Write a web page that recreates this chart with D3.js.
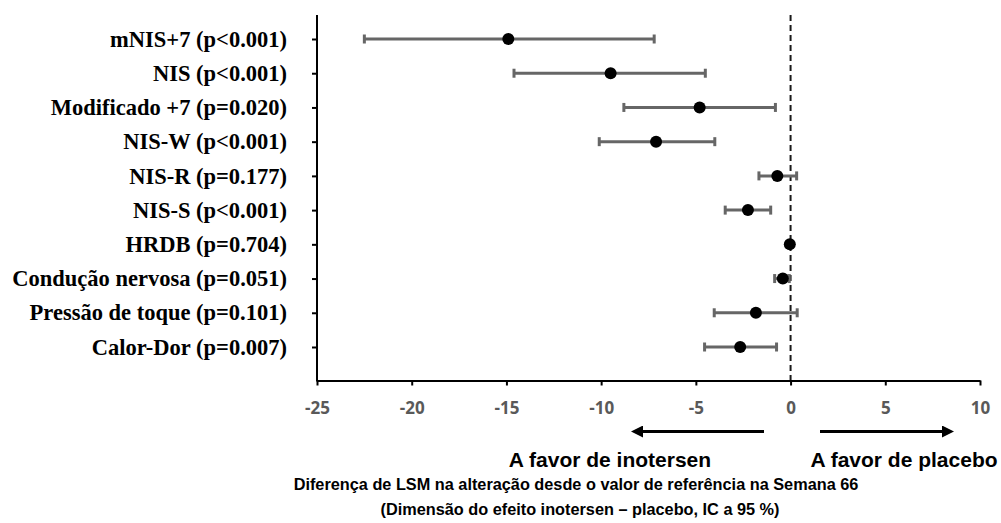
<!DOCTYPE html>
<html>
<head>
<meta charset="utf-8">
<script src="https://cdn.jsdelivr.net/npm/d3@7.9.0/dist/d3.min.js"></script>
<style>
  body { margin: 0; background: #fff; }
  svg { display: block; }
  .row-label { font-family: "Liberation Serif", "Times New Roman", serif; font-weight: bold; font-size: 22.5px; fill: #000; }
  .x-axis text { font-family: "Open Sans", sans-serif; font-weight: bold; font-size: 17px; fill: #595959; }
  .note { font-family: "Liberation Sans", Arial, sans-serif; font-weight: bold; fill: #000; }
</style>
</head>
<body>
<svg id="chart" width="1001" height="523"></svg>
<script>
const labels = [
  "mNIS+7 (p<0.001)",
  "NIS (p<0.001)",
  "Modificado +7 (p=0.020)",
  "NIS-W (p<0.001)",
  "NIS-R (p=0.177)",
  "NIS-S (p<0.001)",
  "HRDB (p=0.704)",
  "Condução nervosa (p=0.051)",
  "Pressão de toque (p=0.101)",
  "Calor-Dor (p=0.007)",
];
const estimates = [-14.9, -9.5, -4.8, -7.1, -0.7, -2.25, -0.04, -0.41, -1.83, -2.66];
const lowerCI = [-22.5, -14.6, -8.8, -10.1, -1.67, -3.45, -0.1, -0.84, -4.03, -4.54];
const upperCI = [-7.2, -4.5, -0.8, -4.0, 0.32, -1.05, 0.02, -0.07, 0.35, -0.74];
const xTicks = [-25, -20, -15, -10, -5, 0, 5, 10];

const rows = labels.map((label, i) => ({
  label,
  est: estimates[i],
  lo: lowerCI[i],
  hi: upperCI[i],
}));

const svg = d3.select("#chart");

const x = d3.scaleLinear().domain([-25, 10]).range([317, 980]);
const y = d3.scalePoint().domain(labels).range([39, 347]);
const axisY = 380.5;
const axisTop = 15;

// dashed zero line
svg.append("line")
  .attr("x1", x(0)).attr("x2", x(0))
  .attr("y1", axisTop).attr("y2", axisY)
  .attr("stroke", "#1a1a1a")
  .attr("stroke-width", 2)
  .attr("stroke-dasharray", "6,4");

// x axis (plain hyphen for negatives, like the original)
const xAxis = svg.append("g")
  .attr("class", "x-axis")
  .attr("transform", `translate(0,${axisY})`)
  .call(d3.axisBottom(x)
    .tickValues(xTicks)
    .tickFormat((d) => `${d}`)
    .tickSize(5)
    .tickSizeOuter(0)
    .tickPadding(16.5));
xAxis.select(".domain").attr("stroke", "#000").attr("stroke-width", 2);
xAxis.selectAll(".tick line").attr("stroke", "#000").attr("stroke-width", 2);

// y axis
svg.append("line")
  .attr("x1", x(-25)).attr("x2", x(-25))
  .attr("y1", axisTop).attr("y2", axisY + 1)
  .attr("stroke", "#000")
  .attr("stroke-width", 2);
const yAxis = svg.append("g")
  .attr("transform", `translate(${x(-25)},0)`)
  .call(d3.axisLeft(y).tickSize(5).tickFormat(""));
yAxis.select(".domain").remove();
yAxis.selectAll(".tick line").attr("stroke", "#000").attr("stroke-width", 2);

svg.append("g")
  .selectAll("text")
  .data(rows)
  .join("text")
  .attr("class", "row-label")
  .attr("x", 287)
  .attr("y", (d) => y(d.label))
  .attr("dy", "0.34em")
  .attr("text-anchor", "end")
  .text((d) => d.label);

// error bars
const bars = svg.append("g")
  .selectAll("g")
  .data(rows)
  .join("g")
  .attr("stroke", "#666")
  .attr("stroke-width", 3);

bars.append("line")
  .attr("x1", (d) => x(d.lo))
  .attr("x2", (d) => x(d.hi))
  .attr("y1", (d) => y(d.label))
  .attr("y2", (d) => y(d.label));
bars.append("line")
  .attr("x1", (d) => x(d.lo)).attr("x2", (d) => x(d.lo))
  .attr("y1", (d) => y(d.label) - 4.5)
  .attr("y2", (d) => y(d.label) + 4.5);
bars.append("line")
  .attr("x1", (d) => x(d.hi)).attr("x2", (d) => x(d.hi))
  .attr("y1", (d) => y(d.label) - 4.5)
  .attr("y2", (d) => y(d.label) + 4.5);

svg.append("g")
  .selectAll("circle")
  .data(rows)
  .join("circle")
  .attr("cx", (d) => x(d.est))
  .attr("cy", (d) => y(d.label))
  .attr("r", 6)
  .attr("fill", "#000");

// direction arrows
const defs = svg.append("defs");
defs.append("marker")
  .attr("id", "head")
  .attr("viewBox", "0 0 10 10")
  .attr("refX", 0)
  .attr("refY", 5)
  .attr("markerWidth", 5)
  .attr("markerHeight", 4)
  .attr("markerUnits", "strokeWidth")
  .attr("orient", "auto")
  .append("path")
  .attr("d", "M0,0L10,5L0,10Z")
  .attr("fill", "#000");

const arrowY = 431.5;
svg.append("line")
  .attr("x1", 764).attr("x2", 643)
  .attr("y1", arrowY).attr("y2", arrowY)
  .attr("stroke", "#000").attr("stroke-width", 3)
  .attr("marker-end", "url(#head)");
svg.append("line")
  .attr("x1", 820).attr("x2", 942)
  .attr("y1", arrowY).attr("y2", arrowY)
  .attr("stroke", "#000").attr("stroke-width", 3)
  .attr("marker-end", "url(#head)");

svg.append("text").attr("class", "note")
  .attr("x", 610).attr("y", 466.5)
  .attr("text-anchor", "middle")
  .style("font-size", "21px")
  .text("A favor de inotersen");
svg.append("text").attr("class", "note")
  .attr("x", 904).attr("y", 466.5)
  .attr("text-anchor", "middle")
  .style("font-size", "21px")
  .text("A favor de placebo");
svg.append("text").attr("class", "note")
  .attr("x", 576).attr("y", 490)
  .attr("text-anchor", "middle")
  .style("font-size", "16.3px")
  .text("Diferença de LSM na alteração desde o valor de referência na Semana 66");
svg.append("text").attr("class", "note")
  .attr("x", 580).attr("y", 515)
  .attr("text-anchor", "middle")
  .style("font-size", "16.3px")
  .text("(Dimensão do efeito inotersen – placebo, IC a 95 %)");
</script>
</body>
</html>
